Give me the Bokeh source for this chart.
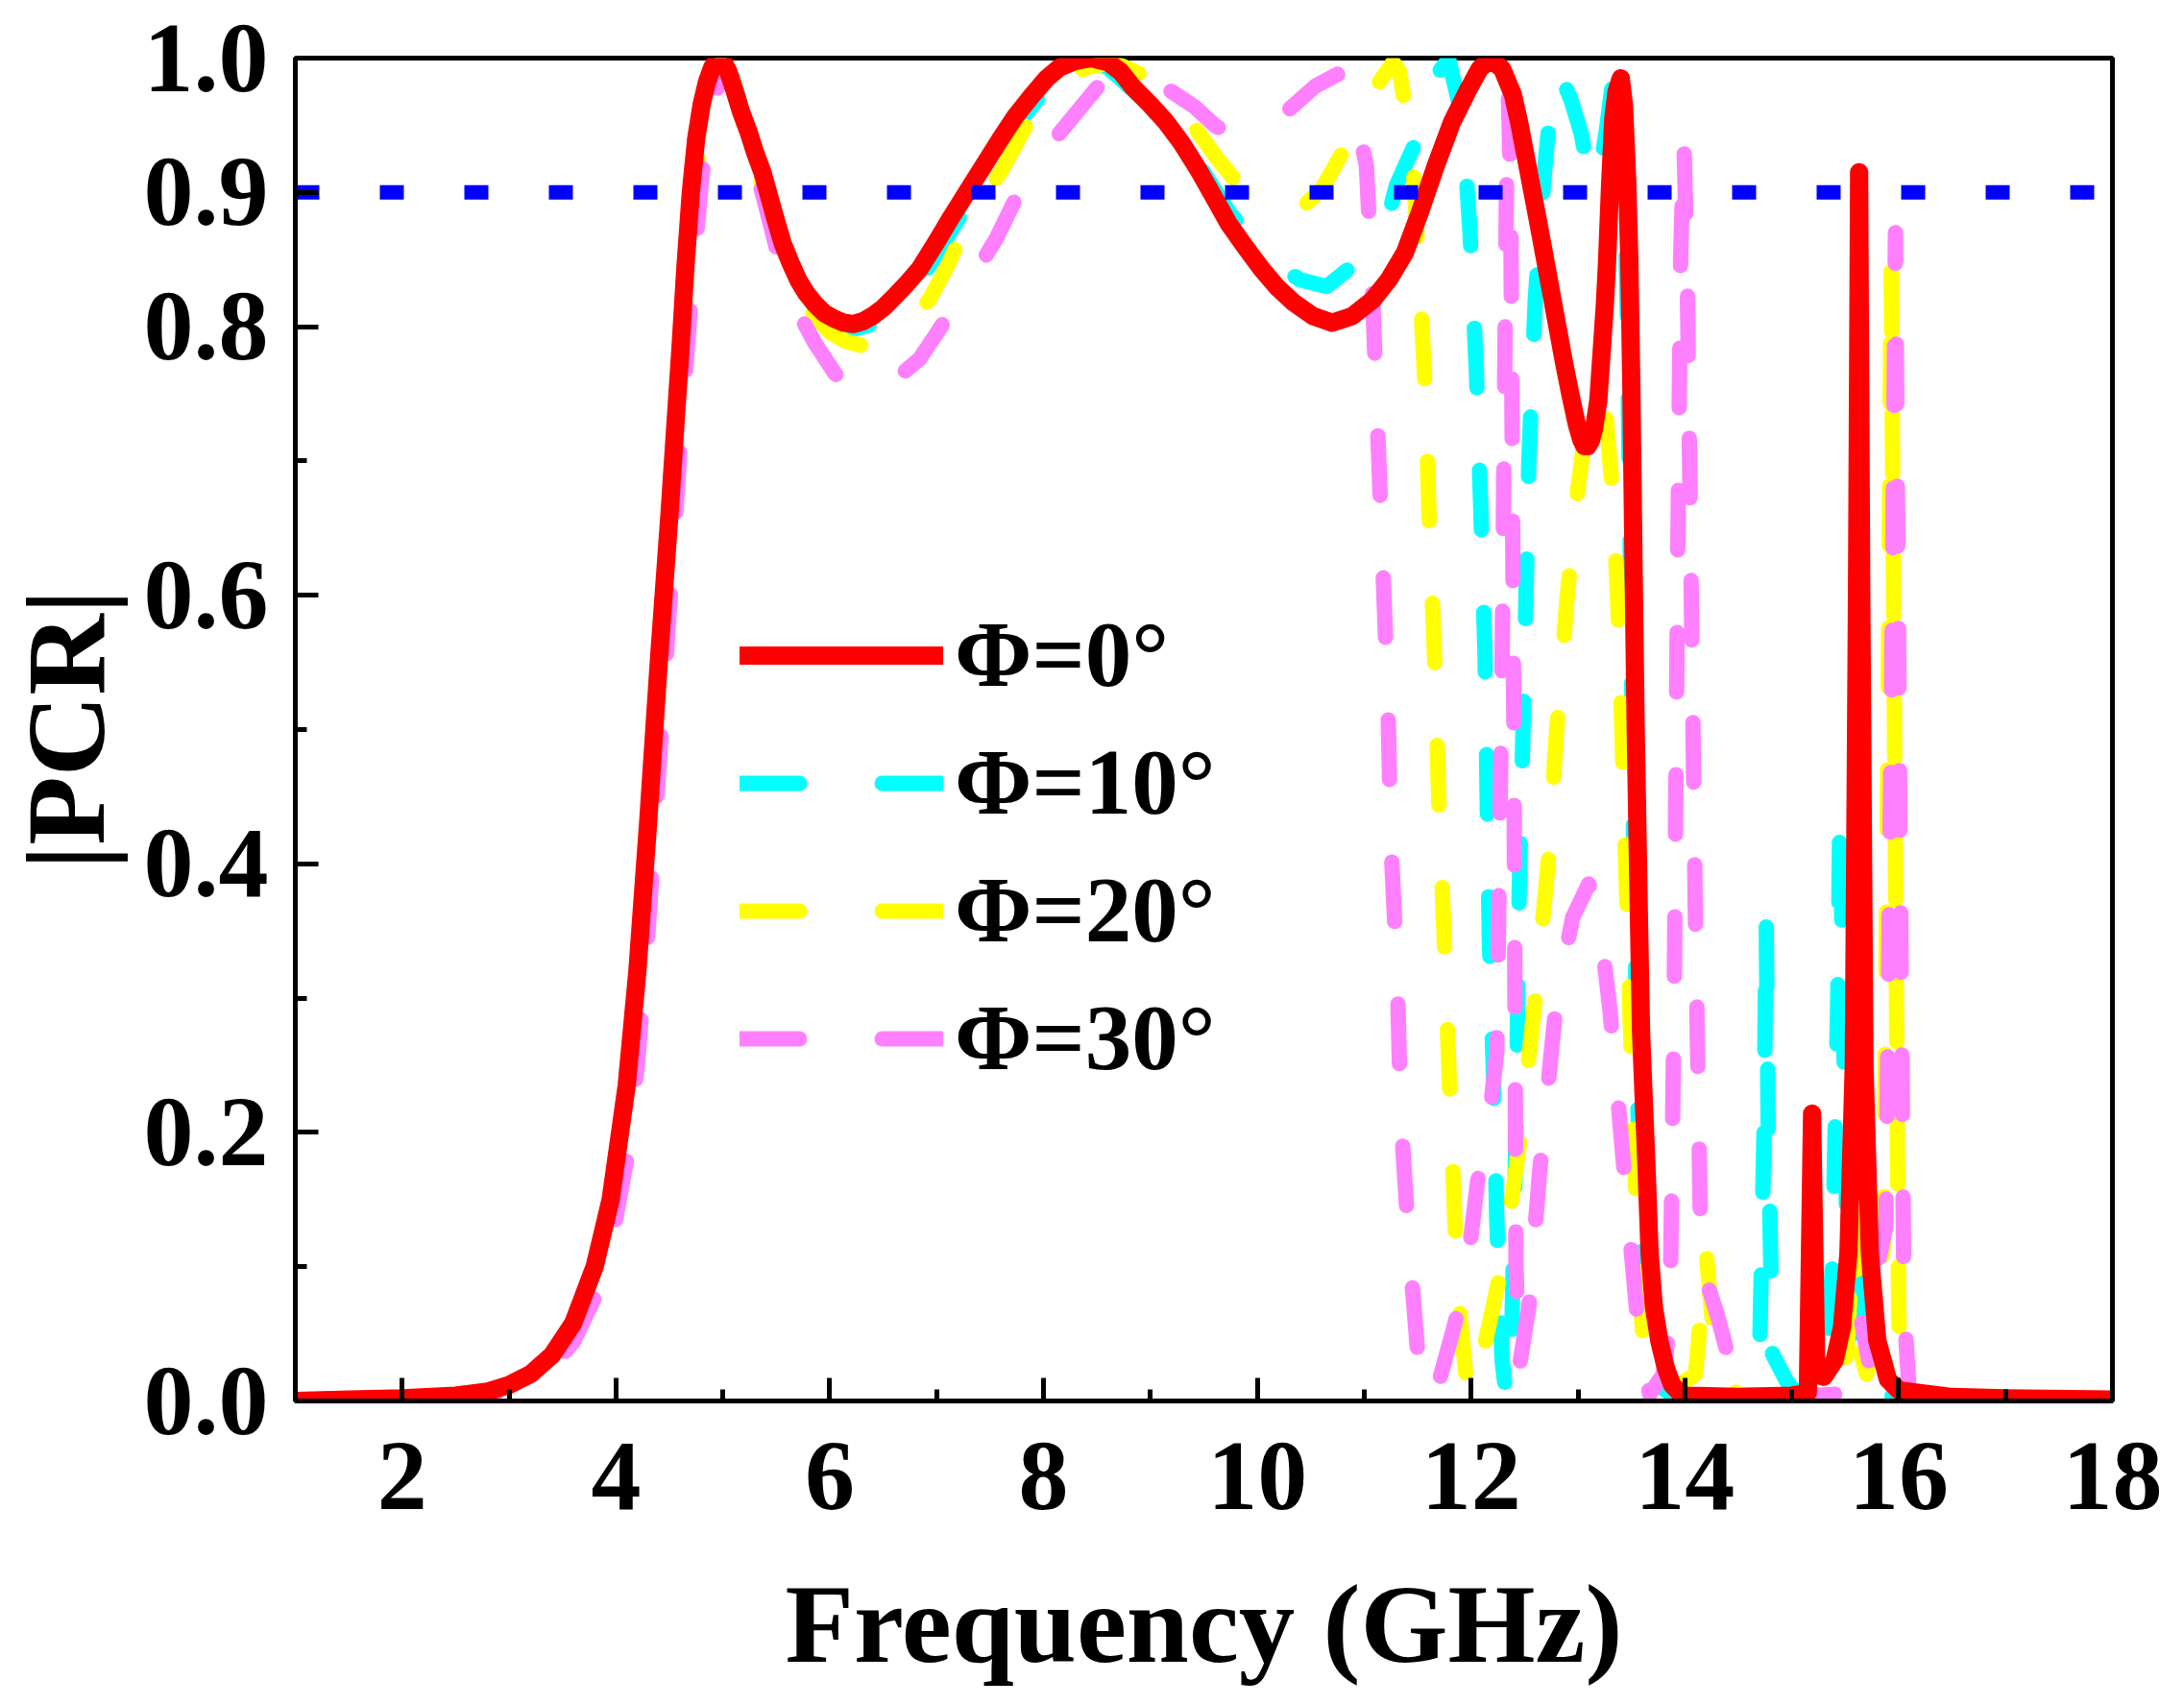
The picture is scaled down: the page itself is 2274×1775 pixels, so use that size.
from bokeh.plotting import figure
from bokeh.models import Legend, LegendItem, FixedTicker, PrintfTickFormatter
from bokeh.embed import file_html
from bokeh.resources import INLINE

# Φ = 0° (solid red)
freq_0 = [1.0, 1.5, 2.0, 2.5, 2.8, 3.0, 3.2, 3.4, 3.6, 3.8, 3.95, 4.1, 4.2, 4.3, 4.4, 4.5,
          4.55, 4.6, 4.65, 4.7, 4.75, 4.8, 4.85, 4.9, 4.95, 5.0, 5.05, 5.1, 5.17, 5.24, 5.3,
          5.37, 5.44, 5.5, 5.56, 5.63, 5.71, 5.78, 5.86, 5.95, 6.04, 6.13, 6.22, 6.31, 6.4,
          6.5, 6.6, 6.72, 6.84, 6.99, 7.14, 7.29, 7.44, 7.59, 7.74, 7.89, 8.03, 8.15, 8.3,
          8.45, 8.6, 8.72, 8.84, 8.99, 9.14, 9.29, 9.44, 9.59, 9.73, 9.89, 10.04, 10.19,
          10.34, 10.52, 10.7, 10.89, 11.08, 11.23, 11.38, 11.52, 11.67, 11.82, 11.97, 12.08,
          12.18, 12.29, 12.39, 12.45, 12.51, 12.57, 12.63, 12.69, 12.75, 12.81, 12.87, 12.93,
          12.99, 13.03, 13.06, 13.09, 13.12, 13.15, 13.19, 13.22, 13.25, 13.27, 13.3, 13.33,
          13.36, 13.4, 13.43, 13.46, 13.48, 13.5, 13.52, 13.54, 13.57, 13.59, 13.62, 13.64,
          13.67, 13.71, 13.76, 13.82, 13.88, 13.94, 14.0, 14.5, 15.0, 15.15, 15.19, 15.23,
          15.3, 15.4, 15.47, 15.53, 15.58, 15.61, 15.63, 15.65, 15.68, 15.73, 15.8, 15.9,
          16.0, 16.5, 17.0, 18.0]
pcr_0 = [0.0, 0.001, 0.002, 0.004, 0.007, 0.012, 0.02, 0.034, 0.058, 0.1, 0.15, 0.235, 0.32,
         0.43, 0.55, 0.66, 0.72, 0.78, 0.845, 0.9, 0.94, 0.965, 0.982, 0.993, 0.999, 0.998,
         0.99, 0.978, 0.96, 0.945, 0.93, 0.915, 0.895, 0.878, 0.862, 0.848, 0.834, 0.825,
         0.817, 0.81, 0.806, 0.803, 0.802, 0.804, 0.808, 0.814, 0.822, 0.832, 0.843, 0.862,
         0.882, 0.901, 0.92, 0.939, 0.957, 0.972, 0.985, 0.993, 0.998, 1.0, 0.997, 0.99,
         0.978, 0.966, 0.953, 0.937, 0.918, 0.897, 0.877, 0.859, 0.843, 0.829, 0.818, 0.808,
         0.803, 0.808, 0.82, 0.835, 0.855, 0.885, 0.92, 0.952, 0.976, 0.992, 0.999, 0.992,
         0.973, 0.952, 0.927, 0.902, 0.877, 0.851, 0.825, 0.799, 0.773, 0.749, 0.727, 0.716,
         0.711, 0.711, 0.715, 0.724, 0.745, 0.78, 0.815, 0.845, 0.905, 0.955, 0.975, 0.985,
         0.965, 0.91, 0.85, 0.75, 0.62, 0.5, 0.36, 0.274, 0.215, 0.176, 0.11, 0.07, 0.045,
         0.025, 0.012, 0.007, 0.004, 0.003, 0.004, 0.006, 0.214, 0.02, 0.018, 0.03, 0.055,
         0.11, 0.25, 0.6, 0.915, 0.6, 0.25, 0.11, 0.045, 0.016, 0.008, 0.003, 0.002, 0.001]

# Φ = 10° (dashed cyan)
freq_10 = [1.0, 1.5, 2.0, 2.5, 2.8, 3.0, 3.2, 3.4, 3.6, 3.8, 3.95, 4.1, 4.2, 4.3, 4.4, 4.5,
           4.6, 4.7, 4.8, 4.9, 4.98, 5.1, 5.23, 5.35, 5.44, 5.56, 5.71, 5.86, 6.04, 6.22, 6.4,
           6.6, 6.84, 7.14, 7.44, 7.74, 8.03, 8.2, 8.4, 8.6, 8.84, 9.14, 9.44, 9.73, 10.13,
           10.4, 10.65, 10.9, 11.2, 11.3, 11.58, 11.7, 11.79, 11.92, 11.99, 12.05, 12.09,
           12.13, 12.15, 12.17, 12.21, 12.24, 12.29, 12.33, 12.38, 12.42, 12.45, 12.5, 12.54,
           12.6, 12.68, 12.75, 12.82, 12.93, 13.03, 13.12, 13.2, 13.26, 13.32, 13.37, 13.42,
           13.46, 13.49, 13.52, 13.56, 13.6, 13.66, 13.74, 13.9, 14.2, 14.47, 14.6, 14.7,
           14.74, 14.76, 14.78, 14.82, 14.95, 15.07, 15.3, 15.38, 15.43, 15.45, 15.48, 15.52,
           15.57, 15.62, 15.67, 15.75, 15.88, 16.5, 18.0]
pcr_10 = [0.0, 0.001, 0.002, 0.004, 0.007, 0.011, 0.019, 0.033, 0.057, 0.098, 0.148, 0.232,
          0.318, 0.428, 0.548, 0.668, 0.778, 0.878, 0.948, 0.984, 0.997, 0.985, 0.946, 0.915,
          0.893, 0.861, 0.832, 0.815, 0.803, 0.798, 0.802, 0.814, 0.834, 0.872, 0.911, 0.949,
          0.978, 0.99, 0.996, 0.993, 0.976, 0.954, 0.922, 0.886, 0.848, 0.835, 0.83, 0.846,
          0.874, 0.905, 0.955, 0.99, 0.999, 0.955, 0.87, 0.765, 0.665, 0.555, 0.45, 0.345,
          0.24, 0.135, 0.03, 0.003, 0.05, 0.2, 0.38, 0.55, 0.7, 0.82, 0.91, 0.97, 0.99, 0.97,
          0.944, 0.904, 0.915, 0.943, 0.98, 0.998, 0.95, 0.82, 0.62, 0.42, 0.22, 0.1, 0.04,
          0.012, 0.004, 0.003, 0.003, 0.02, 0.04, 0.2, 0.36, 0.2, 0.035, 0.015, 0.003, 0.005,
          0.1, 0.3, 0.44, 0.3, 0.1, 0.05, 0.11, 0.05, 0.012, 0.004, 0.001, 0.0]

# Φ = 20° (dashed yellow)
freq_20 = [1.0, 1.5, 2.0, 2.5, 2.8, 3.0, 3.2, 3.4, 3.6, 3.8, 3.95, 4.1, 4.2, 4.3, 4.4, 4.5,
           4.6, 4.7, 4.8, 4.9, 4.98, 5.1, 5.23, 5.35, 5.44, 5.56, 5.71, 5.86, 6.0, 6.15, 6.3,
           6.46, 6.7, 6.93, 7.1, 7.26, 7.44, 7.62, 7.92, 8.15, 8.4, 8.65, 9.0, 9.2, 9.37, 9.6,
           9.78, 10.1, 10.42, 10.6, 10.84, 11.0, 11.14, 11.27, 11.33, 11.45, 11.5, 11.57,
           11.61, 11.66, 11.7, 11.75, 11.8, 11.85, 11.9, 11.95, 12.02, 12.15, 12.3, 12.45,
           12.6, 12.72, 12.8, 12.9, 13.0, 13.1, 13.18, 13.26, 13.32, 13.37, 13.41, 13.45,
           13.49, 13.53, 13.57, 13.62, 13.7, 13.95, 14.1, 14.2, 14.3, 14.5, 15.0, 15.45,
           15.52, 15.58, 15.63, 15.7, 15.8, 15.86, 15.9, 15.93, 15.97, 16.0, 16.03, 16.3, 18.0]
pcr_20 = [0.0, 0.001, 0.002, 0.004, 0.007, 0.011, 0.019, 0.033, 0.057, 0.098, 0.148, 0.232,
          0.318, 0.428, 0.548, 0.668, 0.778, 0.878, 0.948, 0.984, 0.996, 0.983, 0.943, 0.91,
          0.887, 0.856, 0.826, 0.808, 0.796, 0.789, 0.786, 0.787, 0.8, 0.82, 0.845, 0.873,
          0.896, 0.918, 0.962, 0.982, 0.993, 0.997, 0.985, 0.97, 0.953, 0.928, 0.91, 0.895,
          0.889, 0.902, 0.936, 0.962, 0.982, 0.997, 0.99, 0.93, 0.86, 0.755, 0.65, 0.55, 0.44,
          0.34, 0.23, 0.13, 0.06, 0.02, 0.003, 0.05, 0.105, 0.19, 0.3, 0.4, 0.5, 0.6, 0.68,
          0.74, 0.755, 0.735, 0.68, 0.6, 0.5, 0.39, 0.28, 0.18, 0.09, 0.035, 0.015, 0.012,
          0.02, 0.11, 0.02, 0.005, 0.003, 0.005, 0.04, 0.14, 0.04, 0.02, 0.06, 0.12, 0.5,
          0.845, 0.4, 0.066, 0.01, 0.002, 0.0]

# Φ = 30° (dashed violet)
freq_30 = [1.0, 2.0, 2.5, 2.8, 3.0, 3.2, 3.4, 3.6, 3.8, 3.95, 4.1, 4.2, 4.3, 4.4, 4.5, 4.6,
           4.7, 4.8, 4.9, 5.0, 5.1, 5.25, 5.4, 5.56, 5.71, 5.86, 6.05, 6.2, 6.33, 6.6, 6.84,
           7.0, 7.2, 7.4, 7.56, 7.83, 8.0, 8.19, 8.5, 8.75, 9.0, 9.2, 9.41, 9.6, 9.75, 9.9,
           10.09, 10.3, 10.54, 10.75, 10.9, 11.02, 11.07, 11.12, 11.17, 11.22, 11.25, 11.31,
           11.34, 11.42, 11.5, 11.6, 11.65, 11.85, 11.97, 12.06, 12.17, 12.24, 12.29, 12.33,
           12.35, 12.37, 12.4, 12.42, 12.45, 12.54, 12.64, 12.8, 12.95, 13.1, 13.2, 13.3, 13.4,
           13.5, 13.58, 13.67, 13.8, 13.86, 13.9, 13.93, 13.96, 13.99, 14.02, 14.06, 14.1,
           14.15, 14.2, 14.3, 14.4, 14.5, 14.6, 15.0, 15.4, 15.55, 15.65, 15.72, 15.8, 15.88,
           15.93, 15.97, 16.01, 16.05, 16.1, 16.5, 18.0]
pcr_30 = [0.0, 0.001, 0.003, 0.005, 0.008, 0.014, 0.025, 0.044, 0.077, 0.115, 0.18, 0.25,
          0.35, 0.47, 0.59, 0.71, 0.82, 0.91, 0.965, 0.99, 0.98, 0.935, 0.89, 0.84, 0.81,
          0.788, 0.765, 0.752, 0.751, 0.76, 0.776, 0.795, 0.82, 0.845, 0.866, 0.91, 0.93,
          0.948, 0.978, 0.99, 0.983, 0.975, 0.964, 0.95, 0.943, 0.942, 0.947, 0.962, 0.979,
          0.988, 0.966, 0.92, 0.84, 0.735, 0.63, 0.525, 0.415, 0.315, 0.215, 0.115, 0.036,
          0.005, 0.0, 0.058, 0.104, 0.163, 0.21, 0.26, 0.55, 0.9, 0.97, 0.9, 0.5, 0.1, 0.025,
          0.07, 0.17, 0.3, 0.36, 0.385, 0.36, 0.29, 0.2, 0.11, 0.04, 0.005, 0.02, 0.06, 0.3,
          0.6, 0.85, 0.94, 0.85, 0.6, 0.35, 0.11, 0.09, 0.065, 0.035, 0.01, 0.003, 0.003,
          0.005, 0.02, 0.06, 0.03, 0.1, 0.13, 0.5, 0.87, 0.45, 0.07, 0.005, 0.001, 0.0]

threshold = 0.9
x_ticks = [2, 4, 6, 8, 10, 12, 14, 16, 18]
x_minor = [1, 3, 5, 7, 9, 11, 13, 15, 17]
y_ticks = [0.0, 0.2, 0.4, 0.6, 0.8, 0.9, 1.0]
y_minor = [0.1, 0.3, 0.5, 0.7]

FONT = "Liberation Serif"

p = figure(width=2258, height=1759, x_range=(1, 18), y_range=(0, 1),
           output_backend="svg", toolbar_location=None,
           min_border_left=299, min_border_right=59, min_border_top=60, min_border_bottom=301)
p.xgrid.visible = False
p.ygrid.visible = False
p.outline_line_color = "black"
p.outline_line_width = 5
p.outline_line_alpha = 1.0

p.xaxis.ticker = FixedTicker(ticks=x_ticks, minor_ticks=x_minor)
p.yaxis.ticker = FixedTicker(ticks=y_ticks, minor_ticks=y_minor)
p.xaxis.formatter = PrintfTickFormatter(format="%d")
p.yaxis.formatter = PrintfTickFormatter(format="%.1f")

for ax in (p.xaxis, p.yaxis):
    ax.axis_line_width = 5
    ax.axis_line_color = "black"
    ax.major_tick_line_width = 5
    ax.minor_tick_line_width = 5
    ax.major_tick_line_color = "black"
    ax.minor_tick_line_color = "black"
    ax.major_tick_in = 24
    ax.major_tick_out = 0
    ax.minor_tick_in = 12
    ax.minor_tick_out = 0
    ax.major_label_text_font = FONT
    ax.major_label_text_font_style = "bold"
    ax.major_label_text_font_size = "104px"
    ax.major_label_text_color = "black"
    ax.axis_label_text_font = FONT
    ax.axis_label_text_font_style = "bold"
    ax.axis_label_text_font_size = "117px"
    ax.axis_label_text_color = "black"

p.xaxis.axis_label = "Frequency (GHz)"
p.yaxis.axis_label = "|PCR|"
p.xaxis.major_label_standoff = 44
p.yaxis.major_label_standoff = 28
p.xaxis.axis_label_standoff = 52
p.yaxis.axis_label_standoff = 14

dash = "62 86"
r10 = p.line(freq_10, pcr_10, line_color="#00FFFF", line_width=16, line_dash=dash,
             line_cap="round", line_join="round")
r20 = p.line(freq_20, pcr_20, line_color="#FFFF00", line_width=16, line_dash=dash,
             line_cap="round", line_join="round")
r30 = p.line(freq_30, pcr_30, line_color="#FF80FF", line_width=16, line_dash=dash,
             line_cap="round", line_join="round")
r0 = p.line(freq_0, pcr_0, line_color="#FF0000", line_width=19,
            line_cap="round", line_join="round")

# 0.9 reference line
p.line([1, 18], [threshold, threshold], line_color="#0000FF", line_width=15,
       line_dash="25 63", line_cap="butt")

legend = Legend(items=[
    LegendItem(label="Φ=0°", renderers=[r0]),
    LegendItem(label="Φ=10°", renderers=[r10]),
    LegendItem(label="Φ=20°", renderers=[r20]),
    LegendItem(label="Φ=30°", renderers=[r30]),
], location=(463, 322))
legend.padding = 0
legend.margin = 0
legend.spacing = 22
legend.glyph_width = 212
legend.glyph_height = 100
legend.label_height = 100
legend.label_standoff = 12
legend.label_text_font = FONT
legend.label_text_font_style = "bold"
legend.label_text_font_size = "97px"
legend.label_text_color = "black"
legend.border_line_alpha = 0
legend.background_fill_alpha = 0
p.add_layout(legend)

open("out.html", "w").write(file_html(p, INLINE))
